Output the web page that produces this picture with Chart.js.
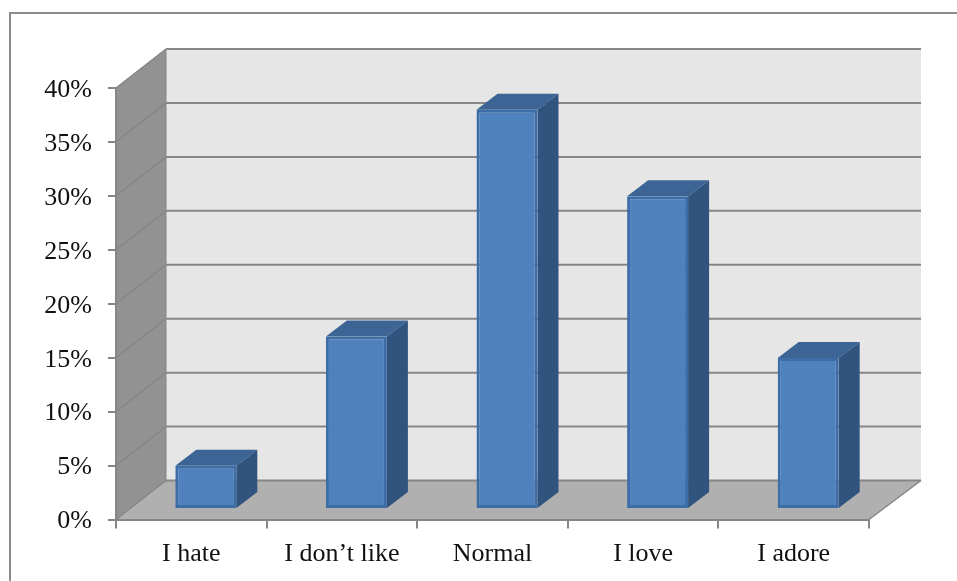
<!DOCTYPE html>
<html>
<head>
<meta charset="utf-8">
<title>Survey responses</title>
<style>
  html, body { margin: 0; padding: 0; background: #ffffff; }
  canvas { display: block; }
</style>
<script src="https://cdn.jsdelivr.net/npm/chart.js@4/dist/chart.umd.js"></script>
</head>
<body>
<canvas id="chart" width="957" height="581"></canvas>
<script>
const categories = ['I hate', 'I don\u2019t like', 'Normal', 'I love', 'I adore'];
const shares = [4, 16, 37, 29, 14];
const axisMax = 40;
const axisStep = 5;

const FONT = { family: '"Liberation Serif", "Times New Roman", serif', size: 26 };
const LINE = '#868686';
const FRONT_FILL = '#4f81bd';
const FRONT_EDGE = '#3d6da6';
const TOP_FILL = '#3c6494';
const SIDE_FILL = '#31547e';

// Oblique projection: the room recedes by ROOM, each bar stands BAR_INSET in
// from the front plane and is BAR_DEPTH deep.
const ROOM = { dxLeft: 50, dxRight: 52, dy: -39 };
const BAR_INSET = { dx: 14.5, dy: -10.5 };
const BAR_DEPTH = { dx: 21, dy: -16 };

function polygon(ctx, points, fill, stroke, width) {
  ctx.beginPath();
  points.forEach(([x, y], i) => (i ? ctx.lineTo(x, y) : ctx.moveTo(x, y)));
  ctx.closePath();
  if (fill) { ctx.fillStyle = fill; ctx.fill(); }
  if (stroke) { ctx.strokeStyle = stroke; ctx.lineWidth = width; ctx.stroke(); }
}

function segment(ctx, x1, y1, x2, y2, color, width) {
  ctx.beginPath();
  ctx.moveTo(x1, y1);
  ctx.lineTo(x2, y2);
  ctx.strokeStyle = color;
  ctx.lineWidth = width;
  ctx.stroke();
}

// Frame, back wall, side wall and floor, all placed from the value scale.
const room = {
  id: 'room',
  beforeDraw(chart) {
    const { ctx, chartArea: a, scales: { y } } = chart;
    const top = y.getPixelForValue(axisMax);
    const base = y.getPixelForValue(0);
    const backL = a.left + ROOM.dxLeft;
    const backR = a.right + ROOM.dxRight;
    const dy = ROOM.dy;
    ctx.save();

    segment(ctx, 10, 13, 10, chart.height, '#8c8c8c', 2);
    segment(ctx, 9, 13, chart.width, 13, '#8c8c8c', 2);

    polygon(ctx, [[backL, top + dy], [backR, top + dy], [backR, base + dy], [backL, base + dy]], '#e6e6e6');
    polygon(ctx, [[a.left, top], [backL, top + dy], [backL, base + dy], [a.left, base]], '#929292');
    polygon(ctx, [[a.left, base], [backL, base + dy], [backR, base + dy], [a.right, base]], '#b0b0b0');

    for (let v = 0; v <= axisMax; v += axisStep) {
      const py = y.getPixelForValue(v);
      segment(ctx, a.left, py, backL, py + dy, LINE, 1.5);
      segment(ctx, backL, py + dy, backR, py + dy, LINE, 2);
    }
    segment(ctx, backL, top + dy, backL, base + dy, LINE, 1);
    segment(ctx, a.right, base, backR, base + dy, LINE, 1.5);
    ctx.restore();
  }
};

// Shifts each bar back off the front plane and adds its top and side faces.
const bars3d = {
  id: 'bars3d',
  beforeDatasetDraw(chart, args) {
    const { ctx } = chart;
    const { dx, dy } = BAR_DEPTH;
    ctx.save();
    ctx.translate(BAR_INSET.dx, BAR_INSET.dy);
    args.meta.data.forEach((bar) => {
      const l = bar.x - bar.width / 2;
      const r = bar.x + bar.width / 2;
      polygon(ctx, [[l, bar.y], [r, bar.y], [r + dx, bar.y + dy], [l + dx, bar.y + dy]], TOP_FILL);
      polygon(ctx, [[r, bar.y], [r + dx, bar.y + dy], [r + dx, bar.base + dy], [r, bar.base]], SIDE_FILL);
    });
  },
  afterDatasetDraw(chart) {
    chart.ctx.restore();
  }
};

new Chart(document.getElementById('chart'), {
  type: 'bar',
  data: {
    labels: categories,
    datasets: [{
      data: shares,
      backgroundColor: FRONT_FILL,
      borderColor: FRONT_EDGE,
      borderWidth: 3,
      borderSkipped: false,
      barPercentage: 0.405,
      categoryPercentage: 1
    }]
  },
  options: {
    responsive: false,
    animation: false,
    layout: { padding: { left: 0, right: 88, top: 88, bottom: 0 } },
    plugins: { legend: { display: false }, tooltip: { enabled: false } },
    scales: {
      x: {
        afterFit(scale) { scale.height = 61.5; },
        grid: { drawOnChartArea: false, color: LINE, lineWidth: 2, tickLength: 9 },
        border: { color: LINE, width: 2 },
        ticks: { font: FONT, color: '#111111', padding: 10, maxRotation: 0 }
      },
      y: {
        min: 0,
        max: axisMax,
        afterFit(scale) { scale.width = 116; },
        grid: { drawOnChartArea: false, color: LINE, lineWidth: 2, tickLength: 8 },
        border: { color: LINE, width: 2 },
        ticks: {
          stepSize: axisStep,
          font: FONT,
          color: '#111111',
          padding: 16,
          labelOffset: 2,
          callback: (v) => v + '%'
        }
      }
    }
  },
  plugins: [room, bars3d]
});
</script>
</body>
</html>
